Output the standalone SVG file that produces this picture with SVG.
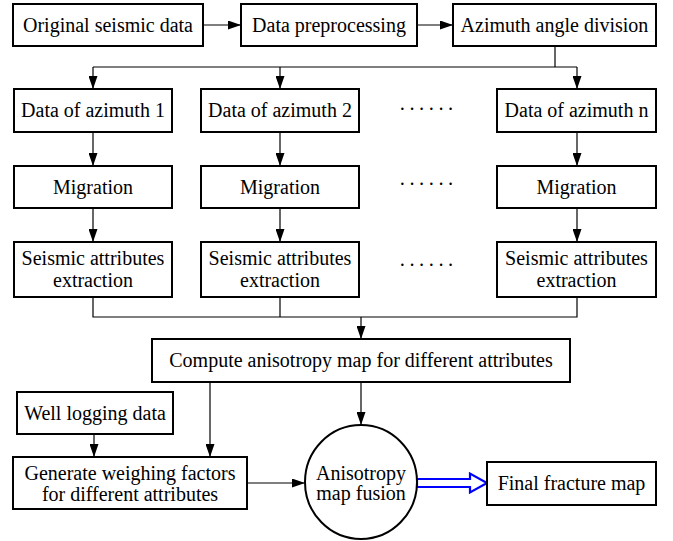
<svg xmlns="http://www.w3.org/2000/svg" width="673" height="541" viewBox="0 0 673 541">
  <defs>
    <marker id="arr" viewBox="0 0 13 9" refX="13" refY="4.5" markerWidth="13" markerHeight="9" markerUnits="userSpaceOnUse" orient="auto">
      <path d="M0,0 L13,4.5 L0,9 Z" fill="#000"/>
    </marker>
    <style>
      .box { fill: #fff; stroke: #000; stroke-width: 2; }
      .lbl { font-family: "Liberation Serif", "Times New Roman", "DejaVu Serif", serif; font-size: 20px; fill: #000; text-anchor: middle; }
      .dots { font-family: "Liberation Serif", "Times New Roman", serif; font-size: 20px; fill: #000; text-anchor: middle; letter-spacing: 3px; }
      .ln { fill: none; stroke: #000; stroke-width: 1.2; }
      .ar { fill: none; stroke: #000; stroke-width: 1.2; marker-end: url(#arr); }
    </style>
  </defs>
  <rect width="673" height="541" fill="#fff"/>

  <!-- connectors -->
  <g id="connectors">
    <line class="ar" x1="203" y1="25" x2="241" y2="25"/>
    <line class="ar" x1="417" y1="25" x2="453" y2="25"/>
    <line class="ln" x1="555" y1="46" x2="555" y2="67"/>
    <line class="ln" x1="93" y1="67" x2="577" y2="67"/>
    <line class="ar" x1="93" y1="67" x2="93" y2="89"/>
    <line class="ar" x1="280" y1="67" x2="280" y2="89"/>
    <line class="ar" x1="577" y1="67" x2="577" y2="89"/>
    <line class="ar" x1="93" y1="132" x2="93" y2="166"/>
    <line class="ar" x1="280" y1="132" x2="280" y2="166"/>
    <line class="ar" x1="577" y1="132" x2="577" y2="166"/>
    <line class="ar" x1="93" y1="208" x2="93" y2="242"/>
    <line class="ar" x1="280" y1="208" x2="280" y2="242"/>
    <line class="ar" x1="577" y1="208" x2="577" y2="242"/>
    <polyline class="ln" points="93,297 93,317 577,317 577,297"/>
    <line class="ln" x1="280" y1="297" x2="280" y2="317"/>
    <line class="ar" x1="361" y1="317" x2="361" y2="339"/>
    <line class="ar" x1="210" y1="382" x2="210" y2="457"/>
    <line class="ar" x1="361" y1="382" x2="361" y2="425"/>
    <line class="ar" x1="94" y1="434" x2="94" y2="457"/>
    <line class="ar" x1="247" y1="483" x2="305" y2="483"/>
    <!-- hollow blue arrow -->
    <path d="M417,479 L470,479 L470,473.5 L487,483 L470,492.5 L470,487 L417,487 Z" fill="#fff" stroke="#0000ff" stroke-width="2.2" stroke-linejoin="miter"/>
  </g>

  <g id="original">
    <rect class="box" x="13" y="4" width="190" height="42"/>
    <text class="lbl" x="108" y="32">Original seismic data</text>
  </g>
  <g id="preprocessing">
    <rect class="box" x="241" y="4" width="176" height="42"/>
    <text class="lbl" x="329" y="32">Data preprocessing</text>
  </g>
  <g id="division">
    <rect class="box" x="453" y="4" width="203" height="42"/>
    <text class="lbl" x="554.5" y="32">Azimuth angle division</text>
  </g>

  <g id="azimuth1">
    <rect class="box" x="14" y="89" width="158" height="43"/>
    <text class="lbl" x="93" y="117">Data of azimuth 1</text>
  </g>
  <g id="azimuth2">
    <rect class="box" x="201" y="89" width="158" height="43"/>
    <text class="lbl" x="280" y="117">Data of azimuth 2</text>
  </g>
  <g id="azimuthn">
    <rect class="box" x="497" y="89" width="159" height="43"/>
    <text class="lbl" x="576.5" y="117">Data of azimuth n</text>
  </g>
  <g id="dots">
    <text class="dots" x="428" y="116">······</text>
    <text class="dots" x="428" y="191">······</text>
    <text class="dots" x="428" y="272">······</text>
  </g>

  <g id="migration1">
    <rect class="box" x="14" y="166" width="158" height="42"/>
    <text class="lbl" x="93" y="194">Migration</text>
  </g>
  <g id="migration2">
    <rect class="box" x="201" y="166" width="158" height="42"/>
    <text class="lbl" x="280" y="194">Migration</text>
  </g>
  <g id="migrationn">
    <rect class="box" x="497" y="166" width="159" height="42"/>
    <text class="lbl" x="576.5" y="194">Migration</text>
  </g>

  <g id="attributes1">
    <rect class="box" x="14" y="242" width="158" height="55"/>
    <text class="lbl" x="93" y="265">Seismic attributes</text>
    <text class="lbl" x="93" y="287">extraction</text>
  </g>
  <g id="attributes2">
    <rect class="box" x="201" y="242" width="158" height="55"/>
    <text class="lbl" x="280" y="265">Seismic attributes</text>
    <text class="lbl" x="280" y="287">extraction</text>
  </g>
  <g id="attributesn">
    <rect class="box" x="497" y="242" width="159" height="55"/>
    <text class="lbl" x="576.5" y="265">Seismic attributes</text>
    <text class="lbl" x="576.5" y="287">extraction</text>
  </g>

  <g id="anisotropy">
    <rect class="box" x="152" y="339" width="418" height="43"/>
    <text class="lbl" x="361" y="367">Compute anisotropy map for different attributes</text>
  </g>
  <g id="welllog">
    <rect class="box" x="17" y="392" width="156" height="42"/>
    <text class="lbl" x="95" y="420">Well logging data</text>
  </g>
  <g id="weights">
    <rect class="box" x="13" y="457" width="234" height="52"/>
    <text class="lbl" x="130" y="480">Generate weighing factors</text>
    <text class="lbl" x="130" y="501">for different attributes</text>
  </g>
  <g id="fusion">
    <ellipse cx="361" cy="482" rx="56" ry="57" fill="#fff" stroke="#000" stroke-width="2"/>
    <text class="lbl" x="361" y="480">Anisotropy</text>
    <text class="lbl" x="361" y="500">map fusion</text>
  </g>
  <g id="final">
    <rect class="box" x="487" y="462" width="169" height="43"/>
    <text class="lbl" x="571.5" y="490">Final fracture map</text>
  </g>
</svg>
